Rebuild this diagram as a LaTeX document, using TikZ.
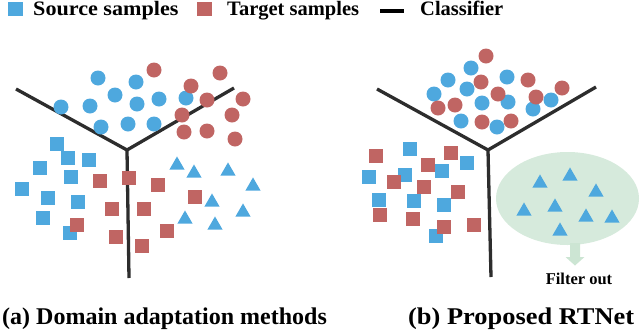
\documentclass[tikz,border=0pt]{standalone}
\usepackage{fontspec}
\setmainfont{Liberation Serif}
\usetikzlibrary{shapes.geometric}
\definecolor{sblue}{RGB}{78,168,222}
\definecolor{tred}{RGB}{192,101,99}
\definecolor{fgreen}{RGB}{214,234,220}
\definecolor{agreen}{RGB}{204,229,211}
\definecolor{cline}{RGB}{45,45,45}
\begin{document}
\begin{tikzpicture}[x=1pt,y=-1pt,
  bcirc/.style={circle,fill=sblue,inner sep=0pt,minimum size=15pt},
  rcirc/.style={circle,fill=tred,inner sep=0pt,minimum size=15pt},
  bsq/.style={rectangle,fill=sblue,inner sep=0pt,minimum size=14.5pt},
  rsq/.style={rectangle,fill=tred,inner sep=0pt,minimum size=14.5pt},
  btri/.style={regular polygon,regular polygon sides=3,fill=sblue,inner sep=0pt,minimum size=17.5pt},
  cls/.style={draw=cline,line width=3.3pt},
  lab/.style={font=\bfseries\fontsize{20.5}{24}\selectfont,anchor=base west,inner sep=0pt},
  captxt/.style={font=\bfseries\fontsize{24}{28}\selectfont,anchor=base west,inner sep=0pt}]
\useasboundingbox (0,0) rectangle (640,330);

% ---------- legend ----------
\node[bsq] (legs) at (15.5,9) {};
\node[lab] (legst) at (33,15.5) {\scalebox{1.08}[1]{Source samples}};
\node[rsq] (legt) at (204.5,9) {};
\node[lab] (legtt) at (227,15.5) {Target samples};
\coordinate (lc1) at (380,11);
\coordinate (lc2) at (404,11);
\draw[draw=black,line width=3.5pt] (lc1) -- (lc2);
\node[lab] (legct) at (420,15.5) {Classifier};

% ---------- panel (a) ----------
\coordinate (la) at (16,89);
\coordinate (lj) at (127,150);
\coordinate (lb) at (234,88);
\coordinate (lc) at (129,278);
\draw[cls] (la) -- (lj) -- (lb);
\draw[cls] (lj) -- (lc);

\foreach \x/\y [count=\i] in {98/78,136/82,115/95,61/107,90/106,137/104,159/99,186/98,101/127,128/124,154/124}
  \node[bcirc] (abc\i) at (\x,\y) {};
\foreach \x/\y [count=\i] in {154/70,220/73,191/86,207/100,243/99,182/115,232/115,184/132,207/131,235/139}
  \node[rcirc] (arc\i) at (\x,\y) {};
\foreach \x/\y [count=\i] in {57/144,68/158,89/160,40/168,71/177,22/189,48/198,78/202,43/218,70/233}
  \node[bsq] (abs\i) at (\x,\y) {};
\foreach \x/\y [count=\i] in {100/181,129/178,158/185,195/197,112/209,144/209,77/225,167/231,116/237,142/246}
  \node[rsq] (ars\i) at (\x,\y) {};
\foreach \x/\y [count=\i] in {177/163,194/171,228/169,253/184,212/200,243/210,185/217,215/223}
  \node[btri] (abt\i) at (\x,\y+2.2) {};

% ---------- panel (b) ----------
\coordinate (ra) at (377,89);
\coordinate (rj) at (488,150);
\coordinate (rb) at (596,87);
\coordinate (rc) at (491,277);
\draw[cls] (ra) -- (rj) -- (rb);
\draw[cls] (rj) -- (rc);

\foreach \x/\y [count=\i] in {471/68,448/80,507/77,434/94,467/89,482/103,508/102,551/100,533/109,461/121,497/127}
  \node[bcirc] (bbc\i) at (\x,\y) {};
\foreach \x/\y [count=\i] in {486/56,481/82,528/80,562/88,498/94,536/97,438/108,455/105,482/122,511/121}
  \node[rcirc] (brc\i) at (\x,\y) {};
\foreach \x/\y [count=\i] in {410/149,467/163,369/177,405/175,442/171,379/200,414/201,444/205,436/236}
  \node[bsq] (bbs\i) at (\x,\y) {};
\foreach \x/\y [count=\i] in {376/156,451/153,428/165,394/182,424/187,458/192,380/215,413/219,444/227,474/225}
  \node[rsq] (brs\i) at (\x,\y) {};

\node[ellipse,fill=fgreen,inner sep=0pt,minimum width=143pt,minimum height=93pt] (filt) at (567.5,198.5) {};
\foreach \x/\y [count=\i] in {540/181,570/174,596/190,524/209,555/205,586/215,612/216,560/229}
  \node[btri] (bbt\i) at (\x,\y+2.2) {};

\fill[agreen] (570,243) -- (580,243) -- (580,257) -- (584.5,257) -- (575,265.5) -- (565.5,257) -- (570,257) -- cycle;
\node[font=\bfseries\fontsize{16.5}{19}\selectfont,anchor=base,inner sep=0pt] (fout) at (579,284) {Filter out};

% ---------- captions ----------
\node[captxt] (capa) at (2,324) {(a) Domain adaptation methods};
\node[captxt] (capb) at (408,324) {\scalebox{1.1}[1]{(b) Proposed RTNet}};
\end{tikzpicture}
\end{document}
